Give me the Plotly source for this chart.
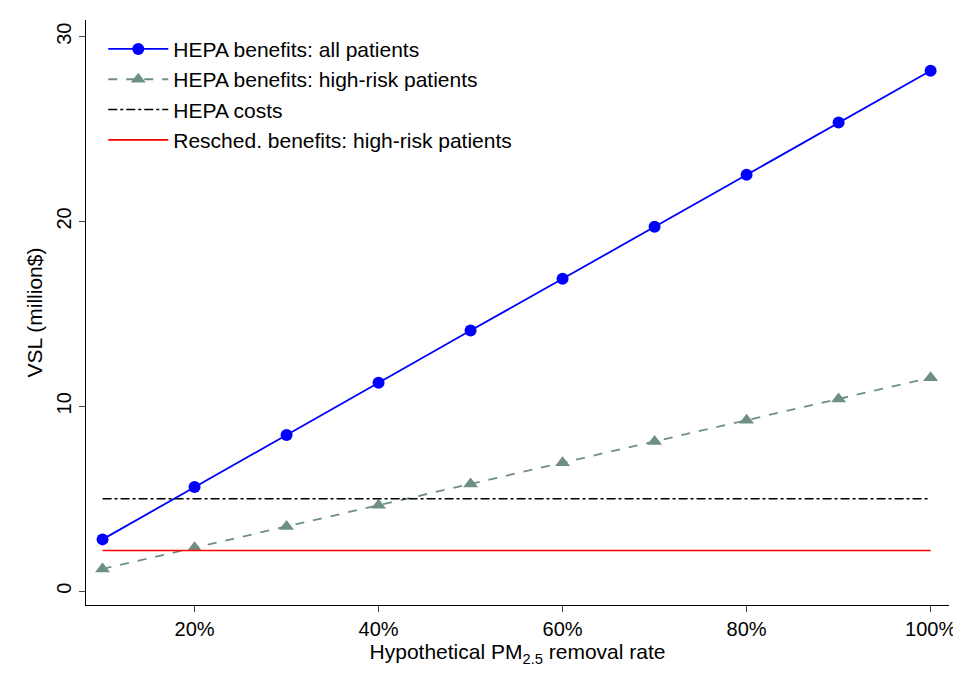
import plotly.graph_objects as go

rates = [0.1,0.2,0.3,0.4,0.5,0.6,0.7,0.8,0.9,1.0]
hepa_all = [2.8,5.63,8.45,11.27,14.1,16.9,19.72,22.53,25.35,28.15]
hepa_high = [1.2,2.35,3.5,4.65,5.8,6.95,8.1,9.25,10.4,11.55]
hepa_cost = [5.0]*10
resched_high = [2.2]*10

fig = go.Figure()
fig.add_trace(go.Scatter(x=rates, y=hepa_all, mode="lines+markers", name="HEPA benefits: all patients",
    line=dict(color="#0000ff", width=1.8), marker=dict(size=12, color="#0000ff")))
fig.add_trace(go.Scatter(x=rates, y=hepa_high, mode="lines+markers", name="HEPA benefits: high-risk patients",
    line=dict(color="#6f8f82", width=1.8, dash="dash"), marker=dict(size=13, symbol="triangle-up", color="#6f8f82")))
fig.add_trace(go.Scatter(x=rates, y=hepa_cost, mode="lines", name="HEPA costs",
    line=dict(color="black", width=1.6, dash="dashdot")))
fig.add_trace(go.Scatter(x=rates, y=resched_high, mode="lines", name="Resched. benefits: high-risk patients",
    line=dict(color="#ff0000", width=1.6)))

fig.update_layout(
    width=961, height=673, plot_bgcolor="white", paper_bgcolor="white",
    margin=dict(l=78, r=20, t=12, b=76),
    font=dict(family="Arial, Liberation Sans", size=20, color="black"),
    legend=dict(x=0.02, y=0.985, xanchor="left", yanchor="top", bgcolor="rgba(0,0,0,0)",
                font=dict(size=21), tracegroupgap=6, itemwidth=60),
    xaxis=dict(range=[0.082,1.02], tickvals=[0.2,0.4,0.6,0.8,1.0], tickformat=".0%",
        showline=True, linecolor="black", linewidth=1.2, ticks="outside", ticklen=6, showgrid=False, zeroline=False,
        tickfont=dict(size=20),
        title=dict(text="Hypothetical PM<sub>2.5</sub> removal rate", standoff=2, font=dict(size=21))),
    yaxis=dict(range=[-0.75,30.9], tickvals=[0,10,20,30], tickangle=-90,
        showline=True, linecolor="black", linewidth=1.2, ticks="outside", ticklen=6, showgrid=False, zeroline=False,
        tickfont=dict(size=20),
        title=dict(text="VSL (million$)", standoff=4, font=dict(size=21))),
)
fig.write_html("out.html")
